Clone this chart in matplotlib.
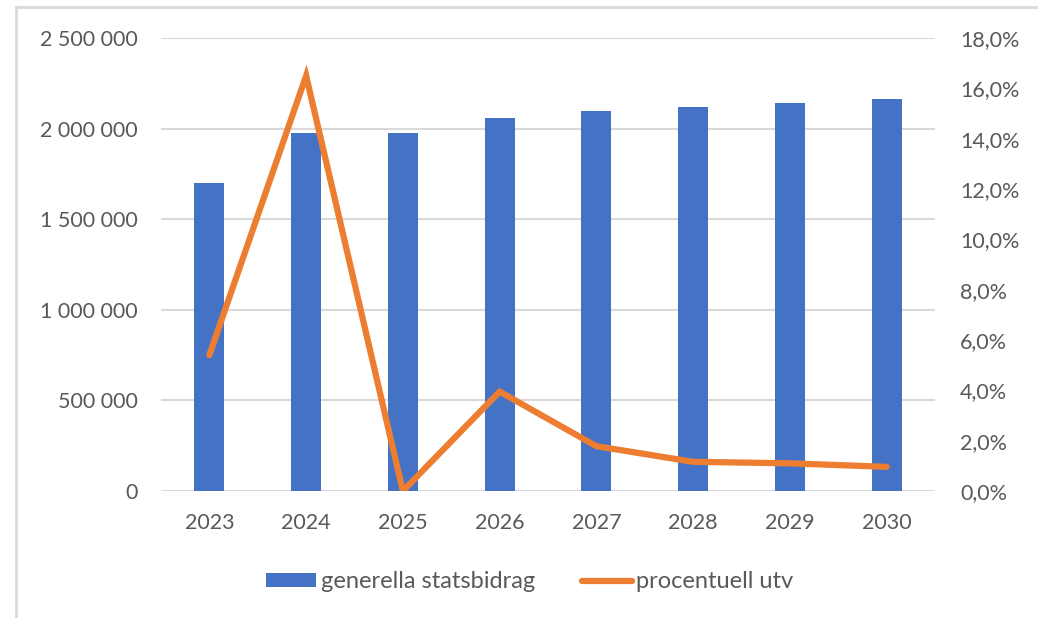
import matplotlib
matplotlib.use("Agg")
import matplotlib.pyplot as plt
from matplotlib.ticker import FuncFormatter, MultipleLocator
from matplotlib.lines import Line2D

years = ["2023", "2024", "2025", "2026", "2027", "2028", "2029", "2030"]
statsbidrag = [1699000, 1975000, 1975000, 2057000, 2098000, 2120000, 2142000, 2164000]
utv_pct = [5.4, 16.5, 0.0, 3.95, 1.78, 1.16, 1.10, 0.96]
bar_label = "generella statsbidrag"
line_label = "procentuell utv"

plt.rcParams['font.family'] = ['Lato', 'DejaVu Sans']
TXT = "#595959"
GRID = "#D9D9D9"
BLUE = "#4472C4"
ORANGE = "#ED7D31"

W, H = 1038, 618
fig = plt.figure(figsize=(W / 100, H / 100), dpi=100)
fig.patch.set_facecolor("white")

# outer chart border (light gray)
fig.add_artist(Line2D([16 / W, 1.0], [1 - 7 / H, 1 - 7 / H], color=GRID, lw=2, transform=fig.transFigure))
fig.add_artist(Line2D([16 / W, 16 / W], [0, 1 - 7 / H], color=GRID, lw=2, transform=fig.transFigure))

ax = fig.add_axes([161 / W, (H - 491) / H, 774 / W, 453 / H])
x = list(range(len(years)))
ax.bar(x, statsbidrag, width=0.31, color=BLUE, zorder=2, label=bar_label)
ax.set_xlim(-0.5, len(years) - 0.5)
ax.set_ylim(0, 2500000)
ax.yaxis.set_major_locator(MultipleLocator(500000))
ax.yaxis.set_major_formatter(FuncFormatter(lambda v, p: f"{int(v):,}".replace(",", " ")))
ax.set_xticks(x)
ax.set_xticklabels(years)
ax.grid(axis="y", color=GRID, lw=1.5, zorder=0)
ax.set_axisbelow(True)
for s in ax.spines.values():
    s.set_visible(False)
ax.tick_params(axis="both", length=0, labelsize=15.5, colors=TXT)
ax.tick_params(axis="y", pad=17)
ax.tick_params(axis="x", pad=16)

ax2 = ax.twinx()
ax2.plot(x, utv_pct, color=ORANGE, lw=4.5, solid_capstyle="round", solid_joinstyle="miter",
         zorder=3, label=line_label)
ax2.set_ylim(0, 18)
ax2.yaxis.set_major_locator(MultipleLocator(2))
ax2.yaxis.set_major_formatter(FuncFormatter(lambda v, p: f"{v:.1f}%".replace(".", ",")))
for s in ax2.spines.values():
    s.set_visible(False)
ax2.tick_params(axis="y", length=0, labelsize=15.5, colors=TXT, pad=18)

h1, l1 = ax.get_legend_handles_labels()
h2, l2 = ax2.get_legend_handles_labels()
leg = fig.legend(h1 + h2, l1 + l2, loc="center", bbox_to_anchor=(530 / W, 1 - 582 / H),
                 ncol=2, frameon=False, fontsize=17, handlelength=2.1, handleheight=0.55,
                 columnspacing=2.0, handletextpad=0.2)
for t in leg.get_texts():
    t.set_color(TXT)

fig.savefig("out.png", dpi=100, facecolor="white")
